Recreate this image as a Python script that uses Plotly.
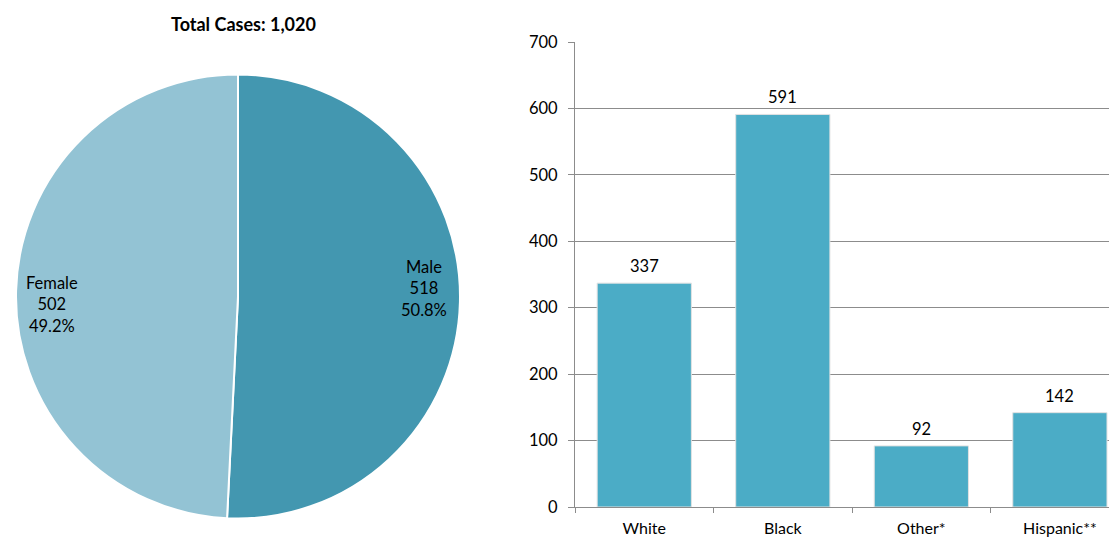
import math
import plotly.graph_objects as go

sex_labels = ["Male", "Female"]
sex_values = [518, 502]
total_title = "Total Cases: 1,020"

race_labels = ["White", "Black", "Other*", "Hispanic**"]
race_values = [337, 591, 92, 142]
y_ticks = [0, 100, 200, 300, 400, 500, 600, 700]

W, H = 1117, 538
OFF = 8  # page body offset


def fx(px):
    return (px - OFF) / W


def fy(py):
    return 1 - (py - OFF) / H


pie_dom_x = [fx(16), fx(460)]
pie_dom_y = [fy(519), fy(74)]

fig = go.Figure()

fig.add_trace(go.Pie(
    labels=sex_labels, values=sex_values,
    sort=False, direction="clockwise", rotation=0,
    marker=dict(colors=["#4397B0", "#93C3D4"], line=dict(color="white", width=2)),
    textinfo="none",
    domain=dict(x=pie_dom_x, y=pie_dom_y),
    showlegend=False, hoverinfo="label+value+percent",
))

# Pie labels placed near each slice's mid-angle (computed from the data)
cx, cy, R = (16 + 460) / 2, (74 + 519) / 2, 222
total = sum(sex_values)
annotations = []
cum = 0
for lab, v in zip(sex_labels, sex_values):
    mid = (cum + v / 2) / total * 2 * math.pi - math.radians(3.8)
    cum += v
    px = cx + 0.84 * R * math.sin(mid)
    py = cy - 0.84 * R * math.cos(mid)
    annotations.append(dict(
        text=f"{lab}<br>{v}<br>{v / total * 100:.1f}%",
        x=fx(px), y=fy(py), xref="paper", yref="paper",
        xanchor="center", yanchor="middle", showarrow=False, align="center",
        font=dict(family="Lato", size=16.5, color="black")))

annotations.append(dict(text="<b>" + total_title + "</b>", x=fx(243), y=fy(24),
                        xref="paper", yref="paper", xanchor="center", yanchor="middle",
                        showarrow=False, font=dict(family="Lato", size=18, color="black")))

# Bar value labels
for lab, v in zip(race_labels, race_values):
    annotations.append(dict(text=str(v), x=lab, y=v, xref="x", yref="y",
                            xanchor="center", yanchor="middle", yshift=17,
                            showarrow=False,
                            font=dict(family="Lato", size=16.5, color="black")))

fig.add_trace(go.Bar(
    x=race_labels, y=race_values,
    marker=dict(color="#4BACC6", line=dict(color="#E2E2E2", width=1)),
    width=0.68,
    showlegend=False, xaxis="x", yaxis="y",
))

fig.update_layout(
    width=W, height=H,
    margin=dict(l=0, r=0, t=0, b=0, autoexpand=False),
    paper_bgcolor="white", plot_bgcolor="white",
    xaxis=dict(domain=[fx(575), 1.0], range=[-0.5, 3.47],
               showline=True, linecolor="#8C8C8C", linewidth=1,
               ticks="outside", tickson="boundaries", ticklen=5, tickcolor="#8C8C8C",
               ticklabelstandoff=7, automargin=False,
               tickfont=dict(family="Lato", size=16, color="black"),
               showgrid=False),
    yaxis=dict(domain=[fy(507), fy(42)], range=[0, 700], tickvals=y_ticks,
               showline=True, linecolor="#8C8C8C", linewidth=1,
               ticks="outside", ticklen=6, tickcolor="#8C8C8C",
               ticklabelstandoff=7, automargin=False,
               gridcolor="#8C8C8C", gridwidth=1,
               tickfont=dict(family="Lato", size=16.5, color="black"),
               zeroline=False),
    annotations=annotations,
)

fig.write_html("out.html")
